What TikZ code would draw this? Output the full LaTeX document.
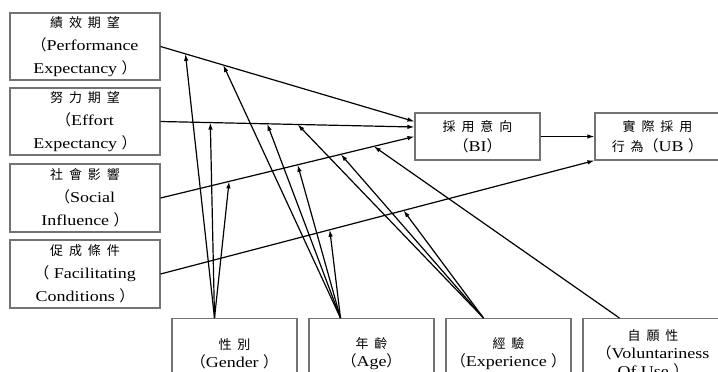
\documentclass[tikz,border=0pt]{standalone}
\usepackage{fontspec}
\setmainfont[FakeStretch=1.2]{Liberation Serif}
\newfontfamily\cjk[LetterSpace=45]{Noto Sans CJK TC}
\newfontfamily\cjkp{Noto Sans CJK TC}
\newcommand{\zh}[1]{{\cjk\fontsize{13}{13}\selectfont #1}}
\newcommand{\lp}{{\cjkp （}}
\newcommand{\rp}{{\cjkp ）}}
\usetikzlibrary{arrows.meta}

\begin{document}
\begin{tikzpicture}[x=1pt, y=-1pt,
  box/.style={draw=black!55, line width=1.1pt, minimum width=150pt, minimum height=67pt,
    align=center, inner sep=1pt, font=\fontsize{15}{23}\selectfont},
  outbox/.style={box, minimum width=125pt, minimum height=47pt, font=\fontsize{15}{20}\selectfont},
  modbox/.style={box, minimum width=125pt, minimum height=70pt, anchor=north,
    font=\fontsize{15}{18}\selectfont},
  arr/.style={-{Latex[length=7pt,width=4.5pt]}, line width=1.2pt}]

  \useasboundingbox (0,0) rectangle (718,372);
  \clip (0,0) rectangle (718,372);

  % -- Left column: predictors --
  \node[box] (pe) at (85,46.5) {\zh{績效期望}\\\lp Performance\\Expectancy \rp};
  \node[box] (ee) at (85,121.5) {\zh{努力期望}\\\lp Effort\\Expectancy \rp};
  \node[box, minimum height=68pt] (si) at (85,198) {\zh{社會影響}\\\lp Social\\Influence \rp};
  \node[box, minimum height=68pt] (fc) at (85,274) {\zh{促成條件}\\\lp \ Facilitating\\Conditions \rp};

  % -- Intention and behaviour --
  \node[outbox] (bi) at (477.5,136.5) {\zh{採用意向}\\\lp BI\rp};
  \node[outbox] (ub) at (657.5,136.5) {\zh{實際採用}\\\zh{行為}\lp UB \rp};

  % -- Moderators (cut by the bottom edge) --
  \node[modbox] (gender) at (234.5,318) {\zh{性別}\\\lp Gender \rp};
  \node[modbox] (age) at (371.5,318) {\zh{年齡}\\\lp Age\rp};
  \node[modbox] (exp) at (508.5,318) {\zh{經驗}\\\lp Experience \rp};
  \node[modbox, minimum width=140pt] (vol) at (653,318) {\zh{自願性}\\\lp Voluntariness\\Of Use \rp};

  % -- Main paths --
  \draw[arr] (pe.east) -- coordinate[pos=0.098] (pe-g) coordinate[pos=0.247] (pe-a) ([yshift=15pt]bi.west);
  \draw[arr] (ee.east) -- coordinate[pos=0.196] (ee-g) coordinate[pos=0.42] (ee-a)
    coordinate[pos=0.54] (ee-e) ([yshift=9.5pt]bi.west);
  \draw[arr] (si.east) -- coordinate[pos=0.27] (si-g) coordinate[pos=0.54] (si-a)
    coordinate[pos=0.71] (si-e) coordinate[pos=0.84] (si-v) (bi.west);
  \draw[arr] (fc.east) -- coordinate[pos=0.39] (fc-a) coordinate[pos=0.56] (fc-e) (ub.south west);
  \draw[arr] (bi.east) -- (ub.west);

  % -- Moderating arrows --
  \coordinate (g0) at ([xshift=-20pt]gender.north);
  \coordinate (a0) at ([xshift=-31pt]age.north);
  \coordinate (e0) at ([xshift=-25pt]exp.north);
  \coordinate (v0) at ([xshift=37pt]vol.north west);
  \foreach \t in {pe-g, ee-g, si-g} \draw[arr] (g0) -- (\t);
  \foreach \t in {pe-a, ee-a, si-a, fc-a} \draw[arr] (a0) -- (\t);
  \foreach \t in {ee-e, si-e, fc-e} \draw[arr] (e0) -- (\t);
  \draw[arr] (v0) -- (si-v);

\end{tikzpicture}
\end{document}
